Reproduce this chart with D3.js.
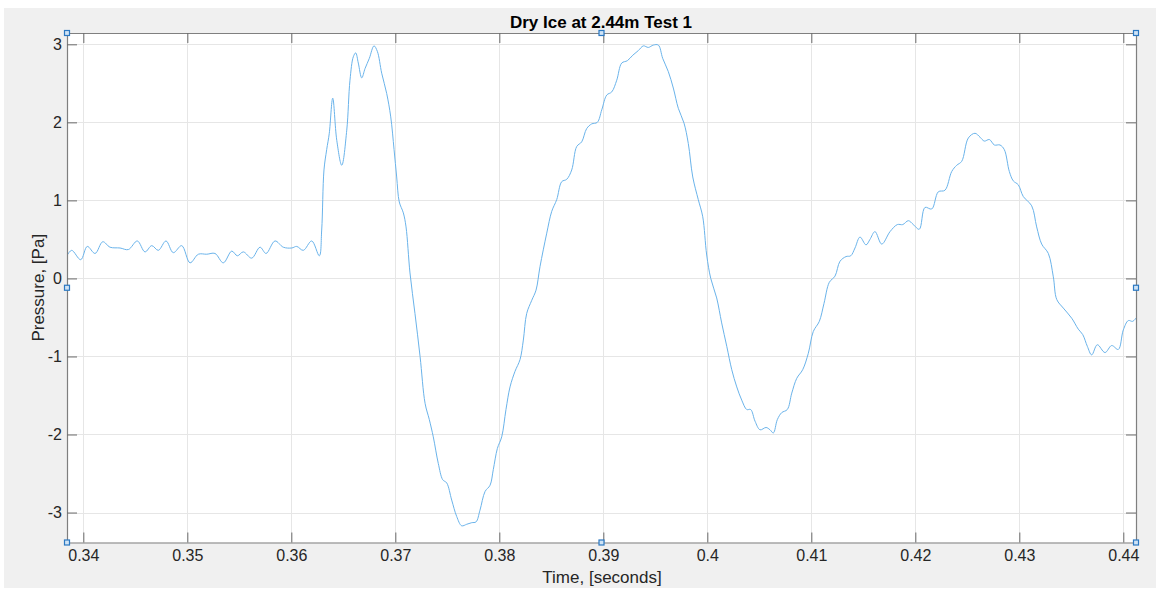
<!DOCTYPE html>
<html>
<head>
<meta charset="utf-8">
<script src="https://cdn.jsdelivr.net/npm/d3@7"></script>
<style>
  html, body { margin: 0; padding: 0; background: #ffffff; }
  svg { display: block; }
  text { font-family: "Liberation Sans", Arial, Helvetica, sans-serif; }
</style>
</head>
<body>
<svg id="chart" width="1156" height="590"></svg>
<script>
// Pressure trace recorded for the dry-ice test at 2.44 m
const timeS = [
  0.33846, 0.33888, 0.33975, 0.34038, 0.34113, 0.34187, 0.34257, 0.34353, 0.34433, 0.34519,
  0.34593, 0.34658, 0.34721, 0.34795, 0.34865, 0.34946, 0.35026, 0.35106, 0.35187, 0.35266,
  0.35346, 0.35427, 0.35481, 0.35538, 0.35619, 0.35699, 0.35757, 0.35843, 0.35923, 0.36004,
  0.36052, 0.36115, 0.36196, 0.36269, 0.36292, 0.36314, 0.36340, 0.36365, 0.36398, 0.36437,
  0.36485, 0.36533, 0.36564, 0.36596, 0.36619, 0.36644, 0.36677, 0.36709, 0.36750, 0.36795,
  0.36827, 0.36869, 0.36917, 0.36956, 0.36988, 0.37013, 0.37038, 0.37077, 0.37103, 0.37141,
  0.37189, 0.37238, 0.37286, 0.37327, 0.37365, 0.37413, 0.37456, 0.37494, 0.37542, 0.37590,
  0.37638, 0.37687, 0.37735, 0.37776, 0.37814, 0.37863, 0.37911, 0.37942, 0.37981, 0.38023,
  0.38064, 0.38103, 0.38151, 0.38199, 0.38231, 0.38263, 0.38312, 0.38353, 0.38391, 0.38456,
  0.38504, 0.38552, 0.38600, 0.38648, 0.38696, 0.38744, 0.38792, 0.38840, 0.38888, 0.38942,
  0.38985, 0.39033, 0.39081, 0.39129, 0.39177, 0.39231, 0.39283, 0.39337, 0.39385, 0.39433,
  0.39481, 0.39529, 0.39571, 0.39625, 0.39673, 0.39721, 0.39776, 0.39817, 0.39860, 0.39913,
  0.39956, 0.39994, 0.40033, 0.40090, 0.40138, 0.40187, 0.40235, 0.40283, 0.40331, 0.40379,
  0.40417, 0.40459, 0.40507, 0.40565, 0.40603, 0.40635, 0.40673, 0.40715, 0.40769, 0.40812,
  0.40860, 0.40917, 0.40971, 0.41019, 0.41077, 0.41122, 0.41173, 0.41228, 0.41276, 0.41334,
  0.41379, 0.41420, 0.41468, 0.41526, 0.41564, 0.41612, 0.41677, 0.41757, 0.41827, 0.41879,
  0.41933, 0.41981, 0.42038, 0.42093, 0.42158, 0.42221, 0.42285, 0.42350, 0.42398, 0.42446,
  0.42510, 0.42574, 0.42622, 0.42663, 0.42712, 0.42760, 0.42814, 0.42856, 0.42904, 0.42942,
  0.42990, 0.43038, 0.43119, 0.43167, 0.43215, 0.43279, 0.43327, 0.43360, 0.43423, 0.43504,
  0.43567, 0.43610, 0.43654, 0.43696, 0.43750, 0.43824, 0.43888, 0.43952, 0.44000, 0.44048,
  0.44090, 0.44128
];
const pressurePa = [
  0.30, 0.36, 0.24, 0.41, 0.32, 0.47, 0.40, 0.39, 0.37, 0.48,
  0.34, 0.42, 0.36, 0.48, 0.33, 0.42, 0.20, 0.31, 0.31, 0.32,
  0.20, 0.35, 0.29, 0.34, 0.26, 0.40, 0.32, 0.48, 0.40, 0.39,
  0.41, 0.36, 0.48, 0.29, 0.62, 1.39, 1.65, 1.86, 2.31, 1.77,
  1.45, 1.90, 2.54, 2.84, 2.89, 2.76, 2.57, 2.69, 2.82, 2.98,
  2.91, 2.63, 2.37, 2.07, 1.65, 1.30, 0.98, 0.84, 0.66, 0.07,
  -0.45, -1.00, -1.60, -1.81, -2.03, -2.37, -2.58, -2.62, -2.84, -3.05,
  -3.17, -3.15, -3.13, -3.12, -2.97, -2.73, -2.65, -2.45, -2.18, -2.03,
  -1.68, -1.39, -1.19, -1.04, -0.79, -0.45, -0.28, -0.15, 0.15, 0.58,
  0.86, 1.01, 1.24, 1.27, 1.39, 1.69, 1.75, 1.92, 1.98, 2.00,
  2.16, 2.35, 2.39, 2.54, 2.76, 2.79, 2.86, 2.92, 2.98, 2.96,
  2.99, 2.99, 2.82, 2.65, 2.44, 2.18, 1.99, 1.73, 1.30, 1.01,
  0.79, 0.30, 0.00, -0.25, -0.57, -0.87, -1.17, -1.39, -1.56, -1.68,
  -1.68, -1.83, -1.94, -1.91, -1.94, -1.98, -1.81, -1.72, -1.68, -1.47,
  -1.28, -1.17, -0.96, -0.68, -0.55, -0.32, -0.05, 0.03, 0.22, 0.28,
  0.29, 0.39, 0.53, 0.43, 0.50, 0.60, 0.44, 0.60, 0.69, 0.69,
  0.74, 0.69, 0.63, 0.91, 0.89, 1.11, 1.13, 1.37, 1.45, 1.50,
  1.80, 1.86, 1.81, 1.76, 1.78, 1.71, 1.71, 1.65, 1.37, 1.25,
  1.20, 1.05, 0.93, 0.66, 0.44, 0.32, 0.02, -0.27, -0.38, -0.51,
  -0.65, -0.72, -0.87, -0.98, -0.85, -0.95, -0.86, -0.91, -0.66, -0.54,
  -0.55, -0.50
];
const xTicks = [0.34, 0.35, 0.36, 0.37, 0.38, 0.39, 0.40, 0.41, 0.42, 0.43, 0.44];
const xTickLabels = ["0.34", "0.35", "0.36", "0.37", "0.38", "0.39", "0.4", "0.41", "0.42", "0.43", "0.44"];
const yTicks = [-3, -2, -1, 0, 1, 2, 3];
const yTickLabels = ["-3", "-2", "-1", "0", "1", "2", "3"];
const xLimits = [0.33843, 0.44122];
const yLimits = [-3.384, 3.145];

const titleText = "Dry Ice at 2.44m Test 1";
const xLabelText = "Time, [seconds]";
const yLabelText = "Pressure, [Pa]";

const svg = d3.select("#chart");
const W = 1156, H = 590;
const plot = { left: 67, top: 33, right: 1136, bottom: 542.5 };

// figure background
svg.append("rect").attr("x", 4).attr("y", 8).attr("width", W - 4).attr("height", 580)
  .attr("fill", "#f0f0f0");

const x = d3.scaleLinear().domain(xLimits).range([plot.left, plot.right]);
const y = d3.scaleLinear().domain(yLimits).range([plot.bottom, plot.top]);

// axes background
svg.append("rect")
  .attr("x", plot.left).attr("y", plot.top)
  .attr("width", plot.right - plot.left).attr("height", plot.bottom - plot.top)
  .attr("fill", "#ffffff");

// grid
const grid = svg.append("g").attr("stroke", "#e6e6e6").attr("stroke-width", 1);
grid.selectAll("line.gx").data(xTicks).join("line")
  .attr("x1", d => Math.round(x(d)) + 0.5).attr("x2", d => Math.round(x(d)) + 0.5)
  .attr("y1", plot.top).attr("y2", plot.bottom);
grid.selectAll("line.gy").data(yTicks).join("line")
  .attr("y1", d => Math.round(y(d)) + 0.5).attr("y2", d => Math.round(y(d)) + 0.5)
  .attr("x1", plot.left).attr("x2", plot.right);

// data line
svg.append("clipPath").attr("id", "plotClip").append("rect")
  .attr("x", plot.left).attr("y", plot.top)
  .attr("width", plot.right - plot.left).attr("height", plot.bottom - plot.top);

const points = timeS.map((t, i) => [t, pressurePa[i]]);
const line = d3.line().x(d => x(d[0])).y(d => y(d[1])).curve(d3.curveCatmullRom.alpha(0.5));
svg.append("path")
  .attr("clip-path", "url(#plotClip)")
  .attr("d", line(points))
  .attr("fill", "none")
  .attr("stroke", "#6ab3ea")
  .attr("stroke-width", 1)
  .attr("stroke-linejoin", "round");

// axes with inward ticks on all four sides
const tickLen = 10;
const axisColor = "#7f7f7f";
const fmtX = (d, i) => xTickLabels[i];
const fmtY = (d, i) => yTickLabels[i];

const bottomAxis = d3.axisBottom(x).tickValues(xTicks).tickFormat(fmtX).tickSizeInner(-tickLen).tickSizeOuter(0).tickPadding(7);
const topAxis = d3.axisTop(x).tickValues(xTicks).tickFormat("").tickSizeInner(-tickLen).tickSizeOuter(0);
const leftAxis = d3.axisLeft(y).tickValues(yTicks).tickFormat(fmtY).tickSizeInner(-tickLen).tickSizeOuter(0).tickPadding(5);
const rightAxis = d3.axisRight(y).tickValues(yTicks).tickFormat("").tickSizeInner(-tickLen).tickSizeOuter(0);

function styleAxis(g) {
  g.select(".domain").attr("stroke", axisColor).attr("stroke-width", 1.2);
  g.selectAll(".tick line").attr("stroke", "#6b6b6b").attr("stroke-width", 1);
  g.selectAll(".tick text").attr("fill", "#262626").attr("font-size", 16)
    .attr("font-family", "'Liberation Sans', Arial, sans-serif");
}
svg.append("g").attr("transform", `translate(0,${plot.bottom})`).call(bottomAxis).call(styleAxis);
svg.append("g").attr("transform", `translate(0,${plot.top})`).call(topAxis).call(styleAxis);
svg.append("g").attr("transform", `translate(${plot.left},0)`).call(leftAxis).call(styleAxis);
svg.append("g").attr("transform", `translate(${plot.right},0)`).call(rightAxis).call(styleAxis);

// title and axis labels
svg.append("text").attr("x", 601).attr("y", 27.5).attr("text-anchor", "middle")
  .attr("font-size", 17).attr("font-weight", "bold").attr("fill", "#000000").text(titleText);
svg.append("text").attr("x", 602).attr("y", 583).attr("text-anchor", "middle")
  .attr("font-size", 17).attr("fill", "#262626").text(xLabelText);
svg.append("text").attr("transform", `translate(44,${(plot.top + plot.bottom) / 2}) rotate(-90)`)
  .attr("text-anchor", "middle").attr("font-size", 17).attr("fill", "#262626").text(yLabelText);

// selection handles on the axes box
const midX = (plot.left + plot.right) / 2, midY = (plot.top + plot.bottom) / 2;
const handles = [
  [plot.left, plot.top], [midX, plot.top], [plot.right, plot.top],
  [plot.left, midY], [plot.right, midY],
  [plot.left, plot.bottom], [midX, plot.bottom], [plot.right, plot.bottom]
];
svg.append("g").selectAll("rect").data(handles).join("rect")
  .attr("x", d => d[0] - 2.5).attr("y", d => d[1] - 2.5)
  .attr("width", 5).attr("height", 5)
  .attr("fill", "#cfe3f5").attr("stroke", "#2b78c2").attr("stroke-width", 1.2);
</script>
</body>
</html>
